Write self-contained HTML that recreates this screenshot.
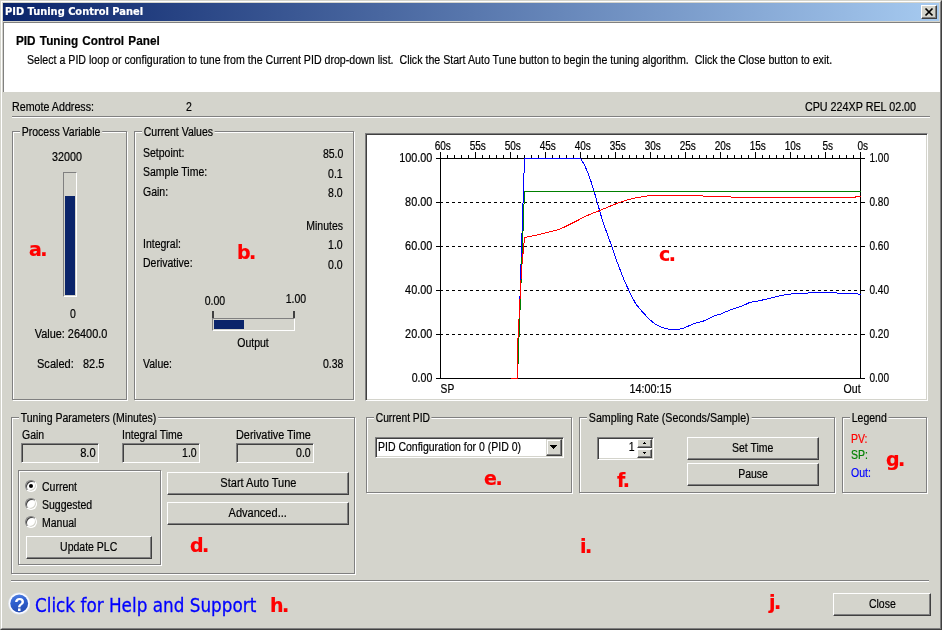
<!DOCTYPE html>
<html lang="en">
<head>
<meta charset="utf-8">
<title>PID Tuning Control Panel</title>
<style>
html,body{margin:0;padding:0;}
body{width:942px;height:630px;overflow:hidden;background:#d4d4cc;position:relative;
 font-family:"Liberation Sans",sans-serif;font-size:12px;line-height:14px;color:#000;-webkit-text-stroke:0.2px currentColor;}
*{box-sizing:border-box;}
.abs,.t,.r,.c,.grp,.btn,.sunk,.sep,.red{position:absolute;}
/* text helpers: top = baseline-11 */
.t{white-space:pre;transform-origin:0 50%;transform:scaleX(.875);}
.r{white-space:pre;transform-origin:100% 50%;transform:scaleX(.875);text-align:right;}
.c{white-space:pre;transform-origin:50% 50%;transform:scaleX(.875);text-align:center;}
/* frame */
#frame{left:0;top:0;width:942px;height:630px;border-style:solid;border-width:1px;border-color:#d4d4cc #404040 #404040 #d4d4cc;}
#frame2{left:1px;top:1px;width:940px;height:628px;border-style:solid;border-width:1px;border-color:#fff #808080 #808080 #fff;}
#title{left:3px;top:3px;width:936px;height:18px;background:linear-gradient(to right,#0a246a 0%,#a6caf0 100%);}
#title span{position:absolute;left:2px;top:1px;font:bold 11px/15px "DejaVu Sans","Liberation Sans",sans-serif;color:#fff;white-space:pre;transform-origin:0 50%;transform:scaleX(.897);}
#xbtn{left:921px;top:5px;width:16px;height:14px;}
#head{left:3px;top:22px;width:937px;height:70px;background:#fff;border-left:1px solid #808080;border-top:1px solid #808080;}
/* etched separators & groups */
.sep{height:2px;border-top:1px solid #808080;border-bottom:1px solid #fff;}
.grp{border:1px solid #808080;box-shadow:1px 1px 0 #fff, inset 1px 1px 0 #fff;}
.grp>b{position:absolute;top:-7px;left:7px;height:14px;background:#d4d4cc;font-weight:normal;white-space:pre;padding:0 2px;transform-origin:0 50%;transform:scaleX(.875);}
.grp>b>i{font-style:normal;}
/* classic button */
.btn{background:#d4d4cc;border-style:solid;border-width:1px;border-color:#fff #404040 #404040 #fff;
 box-shadow:inset -1px -1px 0 #808080, inset 1px 1px 0 #d4d4cc;text-align:center;padding:0;margin:0;font:inherit;color:#000;}
.sbtn{border-color:#d4d4cc #404040 #404040 #d4d4cc;box-shadow:inset -1px -1px 0 #808080, inset 1px 1px 0 #fff;}
.btn span{display:inline-block;position:relative;top:-1px;white-space:pre;transform:scaleX(.875);}
/* sunken field */
.sunk{border-style:solid;border-width:1px;border-color:#808080 #fff #fff #808080;box-shadow:inset 1px 1px 0 #404040, inset -1px -1px 0 #d4d4cc;}
.red{letter-spacing:-1.5px;font:bold 19px/24px "DejaVu Sans","Liberation Sans",sans-serif;color:#f00;white-space:pre;}
.radio{position:absolute;width:12px;height:12px;border-radius:50%;background:#fff;
 border:1px solid;border-color:#808080 #fff #fff #808080;box-shadow:inset 1px 1px 0 #404040, inset -1px -1px 0 #d4d4cc;}
.radio.on::after{content:"";position:absolute;left:3px;top:3px;width:4px;height:4px;border-radius:50%;background:#000;}
</style>
</head>
<body>
<div id="frame" class="abs"></div>
<div id="frame2" class="abs"></div>

<!-- title bar -->
<div id="title" class="abs"><span>PID Tuning Control Panel</span></div>
<div id="xbtn" class="btn">
 <svg width="14" height="12" viewBox="0 0 14 12" style="position:absolute;left:0;top:0"><path d="M3.5 2.5 L10.5 9.5 M10.5 2.5 L3.5 9.5" stroke="#000" stroke-width="1.7" fill="none"/></svg>
</div>

<!-- white header -->
<div id="head" class="abs"></div>
<div class="t" style="left:16px;top:34px;font-weight:bold;word-spacing:1px;transform:scaleX(.979)">PID Tuning Control Panel</div>
<div class="t" style="left:27px;top:53px;transform:scaleX(.885)">Select a PID loop or configuration to tune from the Current PID drop-down list.  Click the Start Auto Tune button to begin the tuning algorithm.  Click the Close button to exit.</div>

<!-- remote address row -->
<div class="t" style="left:11.8px;top:100px;transform:scaleX(.891)">Remote Address:</div>
<div class="t" style="left:186px;top:100px">2</div>
<div class="r" style="right:25.5px;top:100px;transform:scaleX(.896)">CPU 224XP REL 02.00</div>
<div class="sep" style="left:12px;top:116px;width:918px"></div>

<!-- Process Variable group -->
<div class="grp" style="left:12px;top:131px;width:115px;height:269px"><b><i>Process Variable</i></b></div>
<div class="c" style="left:36.5px;width:60px;top:150px;transform:scaleX(.895)">32000</div>
<div class="abs" style="left:63px;top:172px;width:14px;height:125px;border-style:solid;border-width:1px;border-color:#808080 #fff #fff #808080;"></div>
<div class="abs" style="left:65px;top:196px;width:10px;height:99px;background:#0a246a"></div>
<div class="c" style="left:53px;width:40px;top:307px">0</div>
<div class="c" style="left:20.7px;width:100px;top:327px;transform:scaleX(.91)">Value: 26400.0</div>
<div class="t" style="left:36.6px;top:357px;transform:scaleX(.92)">Scaled:</div>
<div class="t" style="left:82.8px;top:357px;transform:scaleX(.91)">82.5</div>
<div class="red" style="left:29px;top:237px">a.</div>

<!-- Current Values group -->
<div class="grp" style="left:134px;top:131px;width:220px;height:269px"><b><i>Current Values</i></b></div>
<div class="t" style="left:143px;top:146px">Setpoint:</div>
<div class="r" style="right:599px;top:147px">85.0</div>
<div class="t" style="left:143px;top:165px">Sample Time:</div>
<div class="r" style="right:599px;top:167px">0.1</div>
<div class="t" style="left:143px;top:185px">Gain:</div>
<div class="r" style="right:599px;top:186px">8.0</div>
<div class="r" style="right:599px;top:219px">Minutes</div>
<div class="t" style="left:143px;top:237px">Integral:</div>
<div class="r" style="right:599px;top:238px">1.0</div>
<div class="t" style="left:143px;top:256px">Derivative:</div>
<div class="r" style="right:599px;top:258px">0.0</div>
<div class="c" style="left:195px;width:40px;top:294px">0.00</div>
<div class="c" style="left:276px;width:40px;top:292px">1.00</div>
<div class="abs" style="left:212px;top:311px;width:2px;height:8px;background:#404040"></div>
<div class="abs" style="left:293px;top:311px;width:2px;height:8px;background:#404040"></div>
<div class="abs" style="left:212px;top:318px;width:83px;height:13px;border-style:solid;border-width:1px;border-color:#808080 #fff #fff #808080;"></div>
<div class="abs" style="left:214px;top:320px;width:30px;height:9px;background:#0a246a"></div>
<div class="c" style="left:223px;width:60px;top:336px">Output</div>
<div class="t" style="left:143px;top:357px">Value:</div>
<div class="r" style="right:599px;top:357px">0.38</div>
<div class="red" style="left:237px;top:240px">b.</div>

<!-- CHART-START -->
<div class="sunk" style="left:365px;top:133px;width:563px;height:268px;background:#fff"></div>
<svg class="abs" style="left:367px;top:135px" width="559" height="264" viewBox="367 135 559 264" font-family="Liberation Sans, sans-serif" font-size="12" fill="#000">
<path d="M440.5 152V378.5M860.5 152V378.5M436 158.5H865M436 378.5H865M440.5 152V158M447.5 155V158M454.5 155V158M461.5 155V158M468.5 155V158M475.5 152V158M482.5 155V158M489.5 155V158M496.5 155V158M503.5 155V158M510.5 152V158M517.5 155V158M524.5 155V158M531.5 155V158M538.5 155V158M545.5 152V158M552.5 155V158M559.5 155V158M566.5 155V158M573.5 155V158M580.5 152V158M587.5 155V158M594.5 155V158M601.5 155V158M608.5 155V158M615.5 152V158M622.5 155V158M629.5 155V158M636.5 155V158M643.5 155V158M650.5 152V158M657.5 155V158M664.5 155V158M671.5 155V158M678.5 155V158M685.5 152V158M692.5 155V158M699.5 155V158M706.5 155V158M713.5 155V158M720.5 152V158M727.5 155V158M734.5 155V158M741.5 155V158M748.5 155V158M755.5 152V158M762.5 155V158M769.5 155V158M776.5 155V158M783.5 155V158M790.5 152V158M797.5 155V158M804.5 155V158M811.5 155V158M818.5 155V158M825.5 152V158M832.5 155V158M839.5 155V158M846.5 155V158M853.5 155V158M860.5 152V158M436 202.5H440M860 202.5H865M436 246.5H440M860 246.5H865M436 290.5H440M860 290.5H865M436 334.5H440M860 334.5H865" stroke="#000" stroke-width="1" fill="none" shape-rendering="crispEdges"/>
<path d="M440 202.5H860M440 246.5H860M440 290.5H860M440 334.5H860" stroke="#000" stroke-width="1" stroke-dasharray="3 3" fill="none" shape-rendering="crispEdges"/>
<polyline points="517.5,378 521,264 524.5,158.5 580.5,158.5 584.5,165 588.6,174.5 591.5,183 594.3,192 598,205 601.9,218.6 606.5,232 611.4,245.2 616,259 621,272 624.5,281 628,288.6 632,297 635.9,304 642,311.5 649.2,319.1 653,322.5 657.2,325.2 660.5,326.8 663.8,327.9 667,328.8 670.4,329.3 675,329.5 679.7,329.2 685,327.6 689,325.8 693,323.9 698,322.5 703.6,321 709,318.5 714.2,315.9 720.8,314 727,311.3 734.1,308.5 742.1,306.1 748.7,302.9 753,301.8 758,301 768.6,298.7 779.2,296 787.2,294.4 793,293.8 800.5,293.5 808,293 816.4,292.5 829.7,292.2 835,292.4 837.6,293.1 850.9,293.5 857.5,293.8 860.5,294.6" stroke="#0000ff" stroke-width="1" fill="none" shape-rendering="crispEdges"/>
<polyline points="517.5,378 521,284 524.5,191.5 860.5,191.5" stroke="#008000" stroke-width="1" fill="none" shape-rendering="crispEdges"/>
<polyline points="511,378.5 517.5,378.5 517.5,348 521.5,270 524.5,237.4 533.6,235.8 540,234.3 546.8,232.5 553,231 560.1,229.1 566.5,226 573.4,222.5 580,219.2 586.7,215.8 593,213 599.9,210.5 608,207 615.8,203.9 622,201.6 629.1,199.4 636,197.8 642.4,196.7 648,195.8 654.3,195.5 700.8,195.5 704.8,196.5 730,196.5 732.6,197.5 854,197.5 857,196.5 860.5,196.3" stroke="#ff0000" stroke-width="1" fill="none" shape-rendering="crispEdges"/>
<g stroke="#000" stroke-width=".2">
<text x="434.7" y="150" textLength="16.2" lengthAdjust="spacingAndGlyphs">60s</text>
<text x="469.7" y="150" textLength="16.2" lengthAdjust="spacingAndGlyphs">55s</text>
<text x="504.7" y="150" textLength="16.2" lengthAdjust="spacingAndGlyphs">50s</text>
<text x="539.7" y="150" textLength="16.2" lengthAdjust="spacingAndGlyphs">45s</text>
<text x="574.7" y="150" textLength="16.2" lengthAdjust="spacingAndGlyphs">40s</text>
<text x="609.7" y="150" textLength="16.2" lengthAdjust="spacingAndGlyphs">35s</text>
<text x="644.7" y="150" textLength="16.2" lengthAdjust="spacingAndGlyphs">30s</text>
<text x="679.7" y="150" textLength="16.2" lengthAdjust="spacingAndGlyphs">25s</text>
<text x="714.7" y="150" textLength="16.2" lengthAdjust="spacingAndGlyphs">20s</text>
<text x="749.7" y="150" textLength="16.2" lengthAdjust="spacingAndGlyphs">15s</text>
<text x="784.7" y="150" textLength="16.2" lengthAdjust="spacingAndGlyphs">10s</text>
<text x="822.5" y="150" textLength="10.6" lengthAdjust="spacingAndGlyphs">5s</text>
<text x="857.5" y="150" textLength="10.6" lengthAdjust="spacingAndGlyphs">0s</text>
<text x="399.3" y="162" textLength="33" lengthAdjust="spacingAndGlyphs">100.00</text>
<text x="869.4" y="162" textLength="19.6" lengthAdjust="spacingAndGlyphs">1.00</text>
<text x="405.1" y="206" textLength="27.2" lengthAdjust="spacingAndGlyphs">80.00</text>
<text x="869.4" y="206" textLength="19.6" lengthAdjust="spacingAndGlyphs">0.80</text>
<text x="405.1" y="250" textLength="27.2" lengthAdjust="spacingAndGlyphs">60.00</text>
<text x="869.4" y="250" textLength="19.6" lengthAdjust="spacingAndGlyphs">0.60</text>
<text x="405.1" y="294" textLength="27.2" lengthAdjust="spacingAndGlyphs">40.00</text>
<text x="869.4" y="294" textLength="19.6" lengthAdjust="spacingAndGlyphs">0.40</text>
<text x="405.1" y="338" textLength="27.2" lengthAdjust="spacingAndGlyphs">20.00</text>
<text x="869.4" y="338" textLength="19.6" lengthAdjust="spacingAndGlyphs">0.20</text>
<text x="411.7" y="382" textLength="20.6" lengthAdjust="spacingAndGlyphs">0.00</text>
<text x="869.4" y="382" textLength="19.6" lengthAdjust="spacingAndGlyphs">0.00</text>
<text x="440.6" y="393" textLength="13.6" lengthAdjust="spacingAndGlyphs">SP</text>
<text x="629.5" y="393" textLength="42" lengthAdjust="spacingAndGlyphs">14:00:15</text>
<text x="843.6" y="393" textLength="17" lengthAdjust="spacingAndGlyphs">Out</text>
</g>
</svg>
<div class="red" style="left:659px;top:242px">c.</div>
<!-- CHART-END -->
<!-- Tuning Parameters group -->
<div class="grp" style="left:11px;top:417px;width:344px;height:157px"><b><i>Tuning Parameters (Minutes)</i></b></div>
<div class="t" style="left:22px;top:428px">Gain</div>
<div class="t" style="left:122px;top:428px">Integral Time</div>
<div class="t" style="left:236px;top:428px;transform:scaleX(.905)">Derivative Time</div>
<div class="sunk" style="left:21px;top:443px;width:78px;height:20px"></div>
<div class="r" style="right:846.5px;top:446px;transform:scaleX(.93)">8.0</div>
<div class="sunk" style="left:122px;top:443px;width:78px;height:20px"></div>
<div class="r" style="right:745px;top:446px">1.0</div>
<div class="sunk" style="left:236px;top:443px;width:78px;height:20px"></div>
<div class="r" style="right:631px;top:446px">0.0</div>
<div class="grp" style="left:18px;top:470px;width:143px;height:95px"></div>
<div class="radio on" style="left:25px;top:480px"></div>
<div class="radio" style="left:25px;top:498px"></div>
<div class="radio" style="left:25px;top:516px"></div>
<div class="t" style="left:42px;top:480px">Current</div>
<div class="t" style="left:42px;top:498px">Suggested</div>
<div class="t" style="left:42px;top:516px">Manual</div>
<button class="btn" style="left:26px;top:536px;width:126px;height:23px"><span>Update PLC</span></button>
<button class="btn" style="left:167px;top:472px;width:182px;height:23px"><span style="transform:scaleX(.92)">Start Auto Tune</span></button>
<button class="btn" style="left:167px;top:502px;width:182px;height:23px"><span style="transform:scaleX(.92)">Advanced...</span></button>
<div class="red" style="left:190px;top:533px">d.</div>

<!-- Current PID group -->
<div class="grp" style="left:366px;top:417px;width:206px;height:76px"><b style="transform:scaleX(.857)"><i>Current PID</i></b></div>
<div class="sunk" style="left:375px;top:437px;width:189px;height:21px;background:#fff"></div>
<div class="t" style="left:378px;top:440px">PID Configuration for 0 (PID 0)</div>
<div class="btn sbtn" style="left:546px;top:439px;width:16px;height:17px">
 <svg width="14" height="15" viewBox="0 0 14 15" style="position:absolute;left:0;top:0" shape-rendering="crispEdges"><path d="M3 5h7v1h-7zM4 6h5v1h-5zM5 7h3v1h-3zM6 8h1v1h-1z" fill="#000"/></svg>
</div>
<div class="red" style="left:484px;top:466px">e.</div>

<!-- Sampling Rate group -->
<div class="grp" style="left:579px;top:417px;width:256px;height:76px"><b style="transform:scaleX(.89)"><i>Sampling Rate (Seconds/Sample)</i></b></div>
<div class="sunk" style="left:597px;top:437px;width:57px;height:23px;background:#fff"></div>
<div class="r" style="right:307px;top:440px">1</div>
<div class="btn" style="left:637px;top:439px;width:15px;height:9px">
 <svg width="13" height="7" viewBox="0 0 13 7" style="position:absolute;left:0;top:0" shape-rendering="crispEdges"><path d="M6 2h1v1h-1zM5 3h3v1h-3z" fill="#000"/></svg>
</div>
<div class="btn" style="left:637px;top:449px;width:15px;height:9px">
 <svg width="13" height="7" viewBox="0 0 13 7" style="position:absolute;left:0;top:0" shape-rendering="crispEdges"><path d="M5 2h3v1h-3zM6 3h1v1h-1z" fill="#000"/></svg>
</div>
<button class="btn" style="left:687px;top:437px;width:132px;height:23px"><span>Set Time</span></button>
<button class="btn" style="left:687px;top:463px;width:132px;height:23px"><span>Pause</span></button>
<div class="red" style="left:617px;top:468px">f.</div>

<!-- Legend group -->
<div class="grp" style="left:842px;top:417px;width:85px;height:76px"><b><i>Legend</i></b></div>
<div class="t" style="left:851px;top:432px;color:#f00">PV:</div>
<div class="t" style="left:851px;top:448px;color:#008000">SP:</div>
<div class="t" style="left:851px;top:466px;color:#00f">Out:</div>
<div class="red" style="left:886px;top:447px">g.</div>

<div class="red" style="left:580px;top:534px">i.</div>

<!-- bottom row -->
<svg class="abs" style="left:7px;top:591px" width="24" height="24" viewBox="0 0 24 24">
 <defs><linearGradient id="hg" x1="0" y1="0" x2="0.25" y2="1"><stop offset="0" stop-color="#5585e6"/><stop offset=".45" stop-color="#2f60d0"/><stop offset="1" stop-color="#274fb6"/></linearGradient></defs>
 <circle cx="12.2" cy="12.5" r="10.9" fill="#e4e9f4"/>
 <circle cx="12.2" cy="12.5" r="10.3" fill="#fdfdff"/>
 <circle cx="12.2" cy="12.5" r="8.9" fill="url(#hg)"/>
 <text x="12.6" y="20" text-anchor="middle" font-family="Liberation Sans, sans-serif" font-weight="bold" font-size="17.5" fill="#fff" stroke="none">?</text>
</svg>
<div class="abs" style="left:35px;top:594.4px;font:19px/22px 'DejaVu Sans','Liberation Sans',sans-serif;color:#00f;-webkit-text-stroke:0.3px #00f;white-space:pre;transform-origin:0 50%;transform:scaleX(.886)">Click for Help and Support</div>
<div class="red" style="left:270px;top:593px">h.</div>
<div class="red" style="left:769px;top:590px">j.</div>
<button class="btn" style="left:833px;top:593px;width:98px;height:23px"><span>Close</span></button>


<div class="sep" style="left:11px;top:580px;width:918px"></div>
</body>
</html>
